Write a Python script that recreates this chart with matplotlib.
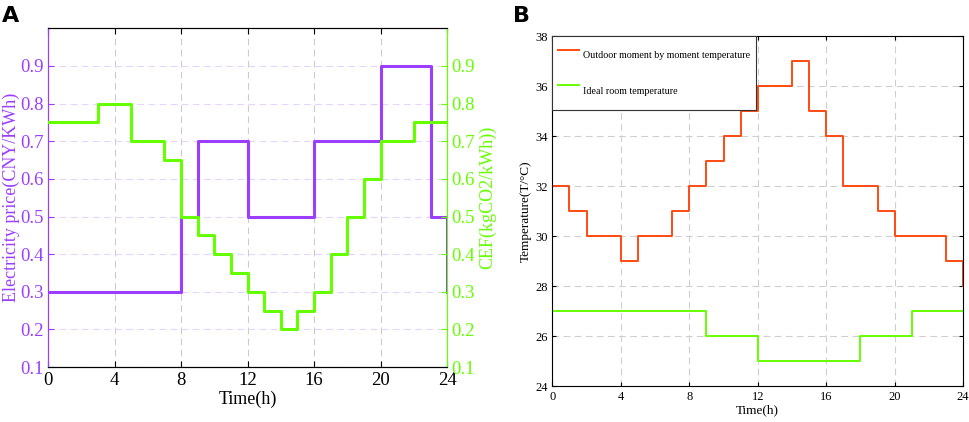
import matplotlib
matplotlib.use("Agg")
import matplotlib.pyplot as plt

plt.rcParams['font.family'] = ['Liberation Serif', 'DejaVu Serif']

PURPLE = '#9D3DFF'
GREEN = '#66FF00'
ORANGE = '#FF4A12'

# panel A data (hourly steps, last entry is the value at 24h)
hours = list(range(25))
price = [0.3, 0.3, 0.3, 0.3, 0.3, 0.3, 0.3, 0.3, 0.5, 0.7, 0.7, 0.7,
         0.5, 0.5, 0.5, 0.5, 0.7, 0.7, 0.7, 0.7, 0.9, 0.9, 0.9, 0.5, 0.3]
cef = [0.75, 0.75, 0.75, 0.8, 0.8, 0.7, 0.7, 0.65, 0.5, 0.45, 0.4, 0.35,
       0.3, 0.25, 0.2, 0.25, 0.3, 0.4, 0.5, 0.6, 0.7, 0.7, 0.75, 0.75, 0.75]

# panel B data
outdoor = [32, 31, 30, 30, 29, 30, 30, 31, 32, 33, 34, 35,
           36, 36, 37, 35, 34, 32, 32, 31, 30, 30, 30, 29, 28]
ideal = [27, 27, 27, 27, 27, 27, 27, 27, 27, 26, 26, 26,
         25, 25, 25, 25, 25, 25, 26, 26, 26, 27, 27, 27, 27]

xticks = [0, 4, 8, 12, 16, 20, 24]

fig = plt.figure(figsize=(9.69, 4.22), dpi=100)

# ---- panel A
ax1 = fig.add_axes([0.0495, 0.130, 0.412, 0.803])
ax2 = ax1.twinx()
ax1.step(hours, price, where='post', color=PURPLE, lw=2.2, zorder=3)
ax2.step(hours, cef, where='post', color=GREEN, lw=2.2, zorder=3)
for a in (ax1, ax2):
    a.set_ylim(0.1, 1.0)
    a.set_yticks([0.1, 0.2, 0.3, 0.4, 0.5, 0.6, 0.7, 0.8, 0.9])
    a.set_xlim(0, 24)
ax1.set_xticks(xticks)
ax1.xaxis.grid(True, ls=(0, (6, 4)), color='#cccccc', lw=0.8)
ax1.yaxis.grid(True, ls=(0, (6, 4)), color='#e4d4ff', lw=0.8)
ax1.set_axisbelow(True)
ax1.tick_params(axis='y', colors=PURPLE, direction='in', labelsize=13.5, length=4, pad=3)
ax1.tick_params(axis='x', direction='in', labelsize=13.5, top=True, length=4)
ax2.tick_params(axis='y', colors=GREEN, direction='in', labelsize=13.5, length=4, pad=3)
ax1.set_xlabel('Time(h)', fontsize=13, labelpad=1)
ax1.set_ylabel('Electricity price(CNY/KWh)', color=PURPLE, fontsize=13, labelpad=0)
ax2.set_ylabel('CEF(kgCO2/kWh))', color=GREEN, fontsize=13, labelpad=3)
ax2.spines['left'].set_color(PURPLE)
ax2.spines['right'].set_color(GREEN)
ax1.spines['left'].set_color(PURPLE)
ax1.spines['right'].set_color(GREEN)
fig.text(0.002, 0.985, 'A', fontsize=16, fontweight='bold', family='DejaVu Sans', va='top')

# ---- panel B
bx = fig.add_axes([0.570, 0.0853, 0.424, 0.829])
bx.step(hours, outdoor, where='post', color=ORANGE, lw=1.4,
        label='Outdoor moment by moment temperature')
bx.step(hours, ideal, where='post', color=GREEN, lw=1.4,
        label='Ideal room temperature')
bx.set_xlim(0, 24)
bx.set_ylim(24, 38)
bx.set_xticks(xticks)
bx.set_yticks(range(24, 39, 2))
bx.grid(True, ls=(0, (6, 4)), color='#cfcfcf', lw=0.8)
bx.set_axisbelow(True)
bx.tick_params(direction='in', labelsize=9, top=True, right=True, length=3)
bx.set_xlabel('Time(h)', fontsize=9.5, labelpad=1)
bx.set_ylabel('Temperature(T/\u00b0C)', fontsize=9.5, labelpad=2)
leg = bx.legend(loc='upper left', borderaxespad=0, fontsize=7.2, fancybox=False,
                framealpha=1, edgecolor='#333333', labelspacing=0.8,
                handleheight=3.8, handlelength=2.05, handletextpad=0.4,
                borderpad=0.6)
leg.get_frame().set_linewidth(0.8)
fig.text(0.529, 0.985, 'B', fontsize=16, fontweight='bold', family='DejaVu Sans', va='top')

fig.savefig('out.png', dpi=100)
